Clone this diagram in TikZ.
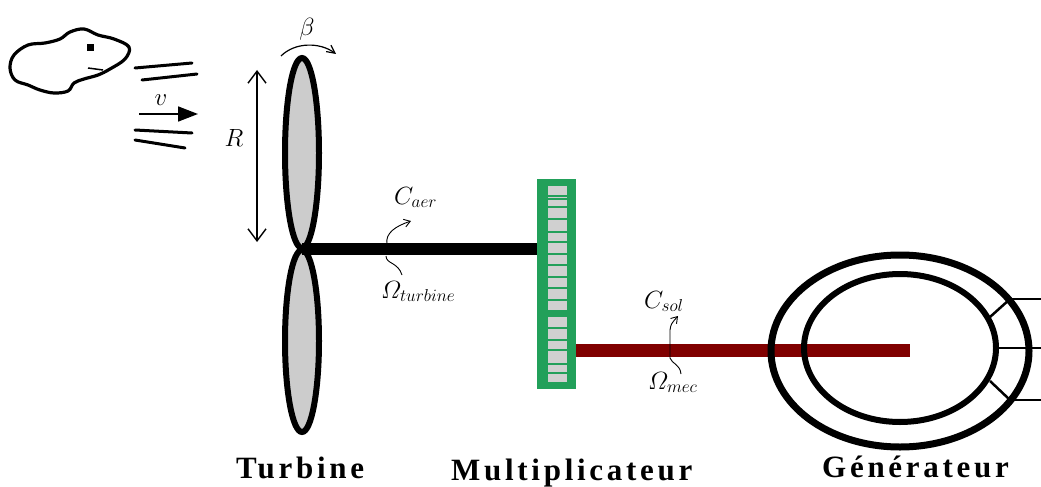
\documentclass[tikz,border=0pt]{standalone}
\usepackage{amsmath}
\usepackage{fontspec}
\newfontfamily\namefont[LetterSpace=12]{Liberation Serif}
\usetikzlibrary{arrows.meta,shapes.geometric}
\definecolor{geargreen}{HTML}{22A05A}
\definecolor{cellgray}{HTML}{D0D0D0}
\definecolor{shaftred}{HTML}{800000}
\tikzset{
  blade/.style={ellipse, draw=black, line width=6pt, fill=gray!40, inner sep=0pt},
  ring/.style={ellipse, draw=black, line width=6pt, inner sep=0pt},
  wind/.style={line width=3pt, line cap=round},
  shaftblack/.style={line width=12pt, draw=black},
  shaftdark/.style={line width=13pt, draw=shaftred},
  wire/.style={line width=2.5pt},
  torque/.style={line width=0.9pt},
  partlabel/.style={anchor=base west, inner sep=0pt, font=\namefont\bfseries\fontsize{31}{33}\selectfont},
  sym/.style={inner sep=0pt, font=\fontsize{25}{27}\selectfont},
}
\begin{document}
\begin{tikzpicture}[x=1pt, y=-1pt]
\useasboundingbox (0,0) rectangle (1041,487);

% cloud blowing the wind
\draw[line width=3.2pt, line join=round] plot[smooth cycle, tension=0.6] coordinates {
  (14,55) (28,45) (45,43) (60,39) (70,32) (84,29) (98,35) (114,39) (129,47)
  (125,59) (110,69) (98,75) (84,79) (74,83) (68,91) (54,93) (40,90) (28,85) (15,80) (10,68)};
\fill (87,44) rectangle (94,51);
\draw[line width=1.5pt] (88,68) -- (103,70);

% wind streaks and speed arrow
\draw[wind] (135,68) -- (192,63);
\draw[wind] (142,80) -- (197,74);
\draw[line width=1.8pt, -{Triangle[length=20pt, width=15pt]}] (139,114) -- (198,114);
\node[sym] (v) at (161,100) {$v$};
\draw[wind] (135,130) -- (192,133);
\draw[wind] (135,140) -- (185,148);

% turbine blades and radius
\node[blade, minimum width=34pt, minimum height=190pt] (bladeup) at (302,153) {};
\node[blade, minimum width=34pt, minimum height=182pt] (bladedown) at (302,341) {};
\coordinate (hub) at (302,249);
\draw[line width=1.4pt, {Straight Barb[length=12pt, width=18pt]}-{Straight Barb[length=12pt, width=18pt]}] (257,70) -- (257,242);
\node[sym, font=\fontsize{29}{31}\selectfont] (R) at (234,138) {$R$};

% pitch angle
\node[sym, font=\fontsize{28}{30}\selectfont] (beta) at (307,29) {$\beta$};
\draw[line width=1.2pt, -{Straight Barb[length=8pt, width=8pt]}] (281,56) .. controls (295,42) and (320,42) .. (336,54);

% gearbox
\node[fill=geargreen, minimum width=39pt, minimum height=210pt, inner sep=0pt] (mult) at (556.5,284) {};
\fill[cellgray] (548,186) rectangle (567,310);
\fill[cellgray] (548,317) rectangle (567,382);
\foreach \yy in {196,199,207,219,232,242,254,265,277,288,300}
  \draw[geargreen, line width=1.2pt] (548,\yy) -- (567,\yy);
\foreach \yy in {328,340,350,364,373}
  \draw[geargreen, line width=1.2pt] (548,\yy) -- (567,\yy);

% slow shaft
\draw[shaftblack] (hub) -- (hub -| mult.west);

% fast shaft
\coordinate (rotor) at (910,350);
\draw[shaftdark] (rotor -| mult.east) -- (rotor);

% generator
\node[ring, line width=7pt, minimum width=258pt, minimum height=192pt] (genout) at (900,351) {};
\node[ring, minimum width=192pt, minimum height=148pt] (genin) at (900,348) {};
\coordinate (edge) at (1041,0);
\coordinate (outU) at (1010,299);
\coordinate (outL) at (1010,400);
\draw[wire] (990,317) -- (outU);
\draw[wire] (990,381) -- (outL);
\draw[wire] (outU) -- (outU -| edge);
\draw[wire] (genin.east) -- (genin.east -| edge);
\draw[wire] (outL) -- (outL -| edge);

% torque and speed of the turbine shaft
\node[sym, anchor=base west] (Caer) at (394,204) {$C_{aer}$};
\node[sym, anchor=base west] (Wturb) at (381,298) {$\varOmega_{turbine}$};
\draw[torque, -{Straight Barb[length=6pt, width=8pt]}] (387,244) .. controls (385,233) and (396,226) .. (411,221);
\draw[torque] (386,256) .. controls (386,264) and (398,262) .. (402,275);

% torque and speed of the generator shaft
\node[sym, anchor=base west] (Csol) at (644,308) {$C_{sol}$};
\node[sym, anchor=base west] (Wmec) at (648,389) {$\varOmega_{mec}$};
\draw[torque, -{Straight Barb[length=6pt, width=8pt]}] (670,358) -- (670,330) .. controls (671,324) .. (678,316);
\draw[torque] (670,358) .. controls (672,364) and (680,364) .. (681,374);

% component names
\node[partlabel] (tname) at (236,478) {Turbine};
\node[partlabel] (mname) at (451,480) {Multiplicateur};
\node[partlabel] (gname) at (822,477) {Générateur};
\end{tikzpicture}
\end{document}
